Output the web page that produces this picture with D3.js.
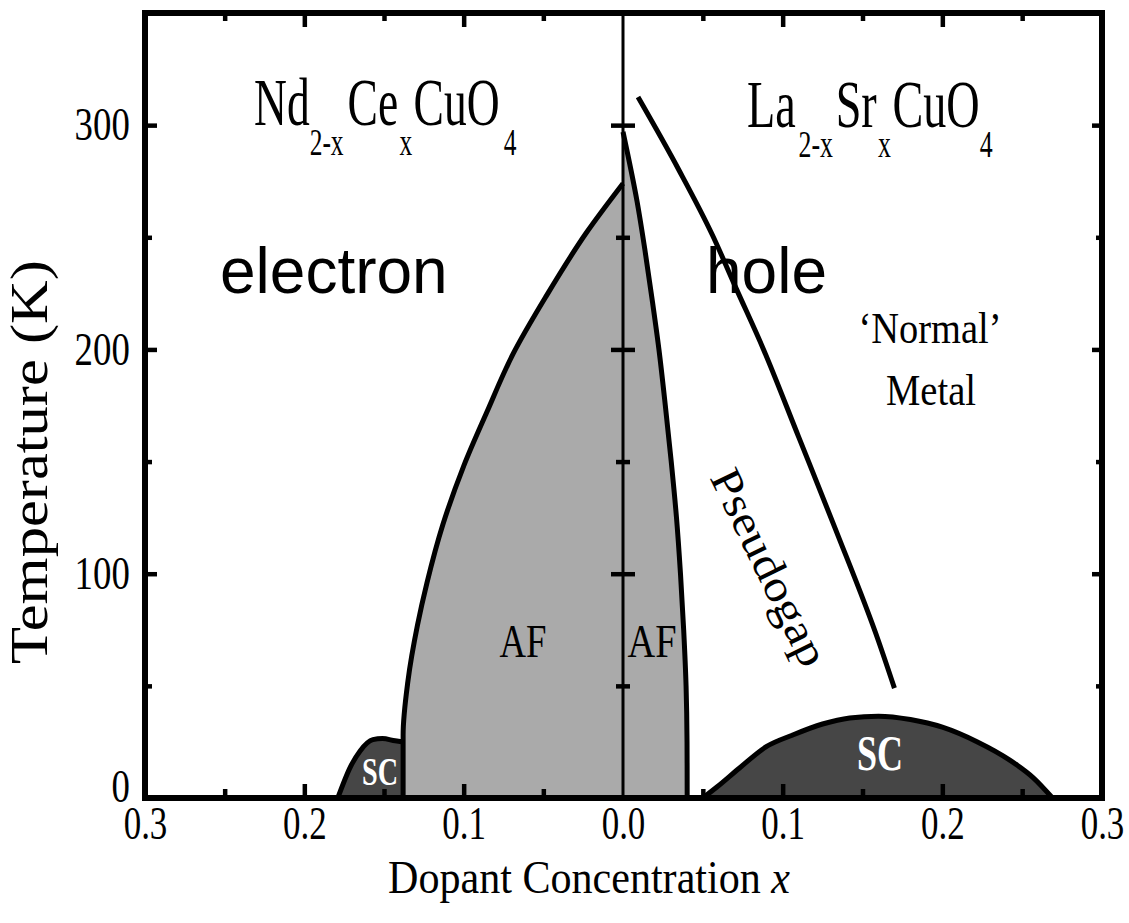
<!DOCTYPE html>
<html>
<head>
<meta charset="utf-8">
<script src="https://cdn.jsdelivr.net/npm/d3@7"></script>
<style>
  html, body { margin: 0; padding: 0; background: #fff; }
  svg { display: block; }
</style>
</head>
<body>
<svg id="chart" width="1129" height="923"></svg>
<script>
// Phase boundaries as [dopant concentration x, temperature T (K)]
const afElectron = [[0.138, 0], [0.138, 28], [0.135, 52], [0.129, 77], [0.123, 96], [0.113, 122],
                    [0.100, 148], [0.0855, 172], [0.069, 198], [0.048, 224], [0.023, 252], [0, 274]];
const afHole = [[0.0402, 0], [0.0401, 25], [0.0395, 50], [0.0380, 75], [0.0360, 100], [0.0335, 125],
                [0.0302, 150], [0.0265, 175], [0.0225, 200], [0.0183, 222], [0.0138, 244],
                [0.0088, 266], [0, 297]];
const scElectron = [[0.179, 0], [0.171, 14], [0.165, 21], [0.157, 26], [0.151, 26.5], [0.143, 25.5], [0.138, 25]];
const scHole = [[0.050, 0], [0.059, 5], [0.073, 13.4], [0.090, 23], [0.106, 28], [0.125, 33], [0.142, 35.7],
                [0.160, 36.5], [0.180, 35], [0.200, 31.6], [0.222, 25], [0.242, 17], [0.257, 9], [0.269, 0]];
const pseudogap = [[0.0094, 312.5], [0.035, 280], [0.056, 251], [0.071, 227], [0.088, 200],
                   [0.110, 161], [0.133, 120], [0.160, 70], [0.170, 49]];

// Axis ticks and labels
const yMajorTicks = [100, 200, 300];
const yMinorTicks = [50, 150, 250];
const yTickLabels = [0, 100, 200, 300];
const xMajorTicks = [0.1, 0.2];
const xMinorTicks = [0.05, 0.15, 0.25];
const xLabelsElectron = [0.3, 0.2, 0.1, 0.0];
const xLabelsHole = [0.1, 0.2, 0.3];

const SERIF = "'Liberation Serif', 'Times New Roman', serif";
const SANS = "'Liberation Sans', Arial, sans-serif";

const svg = d3.select("#chart");
const plot = { left: 145, right: 1102, top: 13, bottom: 798, mid: 623 };

const y = d3.scaleLinear().domain([0, 350]).range([plot.bottom, plot.top]);
const xE = d3.scaleLinear().domain([0, 0.3]).range([plot.mid, plot.left]);   // electron doping, leftwards
const xH = d3.scaleLinear().domain([0, 0.3]).range([plot.mid, plot.right]);  // hole doping, rightwards

const AF_GREY = "#aaaaaa";
const SC_DARK = "#464646";

// ---- AF regions (filled between boundary and x = 0) ----
const afAreaE = d3.area().curve(d3.curveMonotoneY)
  .y(d => y(d[1])).x0(d => xE(d[0])).x1(xE(0));
const afAreaH = d3.area().curve(d3.curveMonotoneY)
  .y(d => y(d[1])).x0(xH(0)).x1(d => xH(d[0]));

svg.append("path").attr("d", afAreaE(afElectron)).attr("fill", AF_GREY);
svg.append("path").attr("d", afAreaH(afHole)).attr("fill", AF_GREY);

// ---- SC domes ----
const scAreaE = d3.area().curve(d3.curveMonotoneX)
  .x(d => xE(d[0])).y0(y(0)).y1(d => y(d[1]));
const scAreaH = d3.area().curve(d3.curveMonotoneX)
  .x(d => xH(d[0])).y0(y(0)).y1(d => y(d[1]));
svg.append("path").attr("d", scAreaE(scElectron)).attr("fill", SC_DARK);
svg.append("path").attr("d", scAreaH(scHole)).attr("fill", SC_DARK);

// ---- boundary lines ----
const lineStyle = sel => sel.attr("fill", "none").attr("stroke", "#000")
  .attr("stroke-width", 5).attr("stroke-linejoin", "round");

svg.append("path").call(lineStyle)
  .attr("d", d3.line().curve(d3.curveMonotoneY).x(d => xE(d[0])).y(d => y(d[1]))(afElectron));
svg.append("path").call(lineStyle)
  .attr("d", d3.line().curve(d3.curveMonotoneY).x(d => xH(d[0])).y(d => y(d[1]))(afHole));
svg.append("path").call(lineStyle)
  .attr("d", d3.line().curve(d3.curveMonotoneX).x(d => xE(d[0])).y(d => y(d[1]))(scElectron));
svg.append("path").call(lineStyle)
  .attr("d", d3.line().curve(d3.curveMonotoneX).x(d => xH(d[0])).y(d => y(d[1]))(scHole));
svg.append("path").call(lineStyle).attr("stroke-linecap", "butt")
  .attr("d", d3.line().curve(d3.curveMonotoneX).x(d => xH(d[0])).y(d => y(d[1]))(pseudogap));

// x = 0 divider
svg.append("line")
  .attr("x1", xE(0)).attr("x2", xE(0)).attr("y1", y(350)).attr("y2", y(0))
  .attr("stroke", "#000").attr("stroke-width", 3);

// ---- tick marks ----
function ticks(transform, axis, width) {
  const g = svg.append("g").attr("transform", transform).call(axis.tickFormat(""));
  g.select(".domain").remove();
  g.selectAll("line").attr("stroke", "#000").attr("stroke-width", width || 4.5);
  return g;
}
// left / right frame and centre line
ticks(`translate(${plot.left},0)`, d3.axisRight(y).tickValues(yMajorTicks).tickSize(12));
ticks(`translate(${plot.left},0)`, d3.axisRight(y).tickValues(yMinorTicks).tickSize(7));
ticks(`translate(${plot.right},0)`, d3.axisLeft(y).tickValues(yMajorTicks).tickSize(10));
ticks(`translate(${plot.right},0)`, d3.axisLeft(y).tickValues(yMinorTicks).tickSize(6));
ticks(`translate(${plot.mid},0)`, d3.axisLeft(y).tickValues(yMajorTicks).tickSize(12));
ticks(`translate(${plot.mid},0)`, d3.axisRight(y).tickValues(yMajorTicks).tickSize(12));
ticks(`translate(${plot.mid},0)`, d3.axisLeft(y).tickValues(yMinorTicks).tickSize(7));
ticks(`translate(${plot.mid},0)`, d3.axisRight(y).tickValues(yMinorTicks).tickSize(7));
// bottom and top frame
[xE, xH].forEach(sc => {
  ticks(`translate(0,${plot.bottom})`, d3.axisTop(sc).tickValues(xMajorTicks).tickSize(14));
  ticks(`translate(0,${plot.bottom})`, d3.axisTop(sc).tickValues(xMinorTicks).tickSize(9));
  ticks(`translate(0,${plot.top})`, d3.axisBottom(sc).tickValues(xMajorTicks).tickSize(14));
  ticks(`translate(0,${plot.top})`, d3.axisBottom(sc).tickValues(xMinorTicks).tickSize(8));
});

// frame
svg.append("rect")
  .attr("x", plot.left).attr("y", plot.top)
  .attr("width", plot.right - plot.left).attr("height", plot.bottom - plot.top)
  .attr("fill", "none").attr("stroke", "#000").attr("stroke-width", 6);

// ---- tick labels (narrow serif) ----
function labelAxis(transform, axis, size, squeeze) {
  const g = svg.append("g").attr("transform", transform).call(axis);
  g.select(".domain").remove();
  g.selectAll("line").remove();
  g.selectAll("text")
    .style("font-family", SERIF)
    .style("font-size", size + "px")
    .attr("fill", "#000")
    .attr("transform", `scale(${squeeze},1)`);
  return g;
}
const yLab = labelAxis(`translate(${plot.left},0)`,
  d3.axisLeft(y).tickValues(yTickLabels).tickSize(0).tickPadding(19).tickFormat(d3.format("d")), 46, 0.8);
// the zero label sits a little above the bottom edge of the frame
yLab.selectAll(".tick").filter(d => d === 0).select("text").attr("dy", "0.08em");

labelAxis(`translate(0,${plot.bottom})`,
  d3.axisBottom(xE).tickValues(xLabelsElectron).tickSize(0).tickPadding(8).tickFormat(d3.format(".1f")), 46, 0.76);
labelAxis(`translate(0,${plot.bottom})`,
  d3.axisBottom(xH).tickValues(xLabelsHole).tickSize(0).tickPadding(8).tickFormat(d3.format(".1f")), 46, 0.76);

// ---- free text ----
function note(x, yy, str, o) {
  const g = svg.append("g");
  const t = g.append("text")
    .attr("text-anchor", o.anchor || "middle")
    .attr("dy", o.dy || 0)
    .style("font-size", o.size + "px")
    .style("font-weight", o.weight || "normal")
    .style("font-family", o.family || SERIF)
    .attr("fill", o.color || "#000");
  t.append("tspan").text(str);
  if (o.italicTail) t.append("tspan").text(o.italicTail).style("font-style", "italic");
  const k = o.width ? o.width / t.node().getComputedTextLength() : 1;
  g.attr("transform", `translate(${x},${yy}) rotate(${o.rotate || 0}) scale(${k},1)`);
  return t;
}

note(589, 893, "Dopant Concentration ", { size: 46, width: 402, italicTail: "x" });
note(47, 462, "Temperature  (K)", { size: 52, width: 404, rotate: -90 });

note(220, 293, "electron", { size: 64, anchor: "start", family: SANS });
note(706, 293, "hole", { size: 64, anchor: "start", family: SANS });

note(930, 343, "\u2018Normal\u2019", { size: 45, width: 143 });
note(931, 405, "Metal", { size: 45, width: 90 });
note(523, 657, "AF", { size: 47, width: 47 });
note(652, 657, "AF", { size: 47, width: 49 });
note(880, 770, "SC", { size: 50, width: 46, weight: "bold", color: "#fff" });
note(380, 785, "SC", { size: 40, width: 36, weight: "bold", color: "#fff" });

// Pseudogap label along the crossover line
note(770, 567, "Pseudogap", { size: 44, width: 214, rotate: 64, dy: "0.35em" });

// Compound names with subscripts
function formula(x, yy, parts, squeeze) {
  const g = svg.append("g").attr("transform", `translate(${x},${yy}) scale(${squeeze},1)`);
  const t = g.append("text").style("font-family", SERIF).attr("fill", "#000");
  let sub = false;
  parts.forEach(([s, isSub, gap]) => {
    const dy = isSub === sub ? 0 : (isSub ? 30 : -30);
    sub = isSub;
    t.append("tspan").text(s)
      .style("font-size", (isSub ? 38 : 68) + "px")
      .attr("dy", dy).attr("dx", gap || 0);
  });
}
formula(254, 125, [["Nd", false], ["2-x", true, 0], ["Ce", false, 6], ["x", true, 2], ["CuO", false, 2], ["4", true, 6]], 0.67);
formula(747, 127, [["La", false], ["2-x", true, 4], ["Sr", false, 4], ["x", true, 2], ["CuO", false, 2], ["4", true, 0]], 0.68);
</script>
</body>
</html>
